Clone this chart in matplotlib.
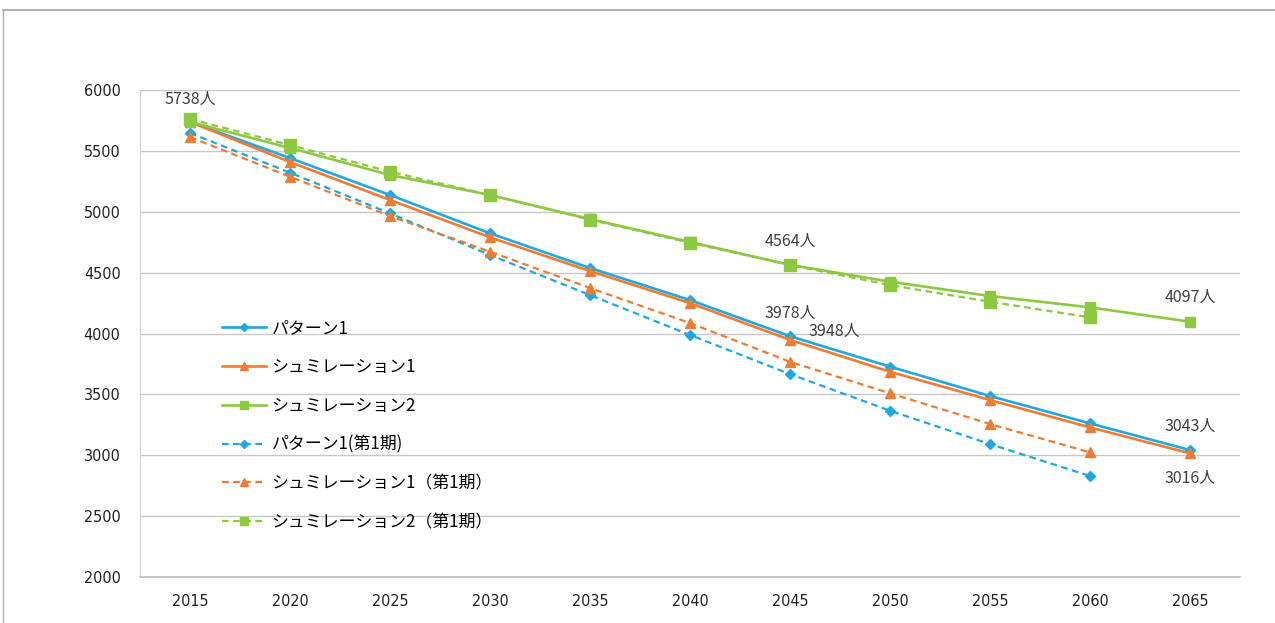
import matplotlib
matplotlib.use("Agg")
import matplotlib.pyplot as plt
from matplotlib.lines import Line2D

plt.rcParams['font.family'] = ['Noto Sans CJK JP', 'DejaVu Sans']

years = [2015, 2020, 2025, 2030, 2035, 2040, 2045, 2050, 2055, 2060, 2065]
years_1ki = years[:-1]

pattern1 = [5738, 5441, 5138, 4823, 4538, 4275, 3978, 3728, 3487, 3262, 3043]
sim1 = [5738, 5409, 5097, 4790, 4513, 4250, 3948, 3686, 3454, 3229, 3016]
sim2 = [5738, 5524, 5302, 5138, 4940, 4752, 4564, 4426, 4308, 4215, 4097]
pattern1_1ki = [5647, 5321, 4987, 4645, 4316, 3988, 3667, 3366, 3092, 2830]
sim1_1ki = [5614, 5288, 4965, 4672, 4374, 4086, 3768, 3509, 3257, 3024]
sim2_1ki = [5762, 5548, 5329, 5138, 4935, 4745, 4563, 4398, 4261, 4133]

names = ['パターン1', 'シュミレーション1', 'シュミレーション2',
         'パターン1(第1期)', 'シュミレーション1（第1期）', 'シュミレーション2（第1期）']

blue = '#1FA8E1'
orange = '#EE7D33'
green = '#8DC841'

fig = plt.figure(figsize=(12.75, 6.23), dpi=100)
ax = fig.add_axes([0.1098, 0.0738, 0.8627, 0.7817])

xs = list(range(len(years)))
xs1 = list(range(len(years_1ki)))

ax.plot(xs, pattern1, color=blue, lw=1.9, marker='D', ms=5, label=names[0], zorder=5)
ax.plot(xs, sim1, color=orange, lw=1.9, marker='^', ms=7, label=names[1], zorder=5)
ax.plot(xs, sim2, color=green, lw=1.9, marker='s', ms=7, label=names[2], zorder=5)
ax.plot(xs1, pattern1_1ki, color=blue, lw=1.6, ls=(0, (3, 2)), marker='D', ms=5, label=names[3], zorder=4)
ax.plot(xs1, sim1_1ki, color=orange, lw=1.6, ls=(0, (3, 2)), marker='^', ms=7, label=names[4], zorder=4)
ax.plot(xs1, sim2_1ki, color=green, lw=1.6, ls=(0, (3, 2)), marker='s', ms=8, label=names[5], zorder=4)

ax.set_xlim(-0.5, len(years) - 0.5)
ax.set_ylim(2000, 6000)
ax.set_yticks(range(2000, 6001, 500))
ax.set_xticks(xs)
ax.set_xticklabels([str(y) for y in years])
ax.yaxis.grid(True, color='#C8C8C8', lw=1.0)
ax.set_axisbelow(True)
for s in ['top', 'right']:
    ax.spines[s].set_visible(False)
ax.spines['left'].set_color('#D0D0D0')
ax.spines['bottom'].set_color('#BDBDBD')
ax.spines['bottom'].set_linewidth(1.2)
ax.tick_params(length=0, labelsize=11.5, colors='#222222')
ax.tick_params(axis='x', pad=12)
ax.tick_params(axis='y', pad=14)
for t in ax.get_xticklabels() + ax.get_yticklabels():
    t.set_family('DejaVu Sans')
    t.set_stretch('condensed')

lab = dict(fontsize=11.5, color='#404040', family=['Noto Sans CJK JP', 'DejaVu Sans'])
i45 = years.index(2045)
ax.annotate(f'{sim2[0]}人', (0, sim2[0]), xytext=(0, 10), textcoords='offset points', ha='center', va='bottom', **lab)
ax.annotate(f'{sim2[i45]}人', (i45, sim2[i45]), xytext=(0, 11), textcoords='offset points', ha='center', va='bottom', **lab)
ax.annotate(f'{pattern1[i45]}人', (i45, pattern1[i45]), xytext=(0, 10), textcoords='offset points', ha='center', va='bottom', **lab)
ax.annotate(f'{sim1[i45]}人', (i45, sim1[i45]), xytext=(13, 0), textcoords='offset points', ha='left', va='bottom', **lab)
ax.annotate(f'{sim2[-1]}人', (10, sim2[-1]), xytext=(0, 11), textcoords='offset points', ha='center', va='bottom', **lab)
ax.annotate(f'{pattern1[-1]}人', (10, pattern1[-1]), xytext=(0, 11), textcoords='offset points', ha='center', va='bottom', **lab)
ax.annotate(f'{sim1[-1]}人', (10, sim1[-1]), xytext=(0, -12), textcoords='offset points', ha='center', va='top', **lab)

ax.legend(loc='upper left', bbox_to_anchor=(0.068, 0.543), frameon=False, fontsize=12.2,
          labelspacing=1.22, handlelength=2.6, handletextpad=0.35, borderaxespad=0,
          markerscale=0.8)

fig.add_artist(Line2D([3 / 1275, 1], [1 - 10 / 623, 1 - 10 / 623], color='#A0A0A0', lw=1.2))
fig.add_artist(Line2D([3 / 1275, 3 / 1275], [0, 1 - 10 / 623], color='#B0B0B0', lw=1.0))

fig.savefig('out.png', dpi=100)
